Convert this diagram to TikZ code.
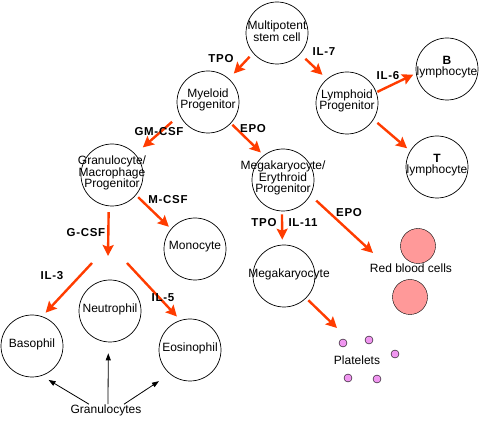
\documentclass[tikz,border=0pt]{standalone}
\usepackage{fontspec}
\setmainfont{Liberation Sans}
\newfontfamily\lblfont[LetterSpace=6]{Liberation Sans Bold}
\usetikzlibrary{arrows.meta}
\definecolor{cytokine}{RGB}{255,60,0}
\definecolor{rbc}{RGB}{255,153,153}
\definecolor{plt}{RGB}{240,150,240}

\begin{document}
\begin{tikzpicture}[x=1pt,y=1pt,
  cell/.style={circle,draw,line width=0.7pt,minimum size=62pt,inner sep=0pt},
  cname/.style={font=\fontsize{12}{11.5}\selectfont,align=center,inner sep=0pt,yshift=2pt},
  factor/.style={font=\lblfont\fontsize{11.5}{11}\selectfont,inner sep=0pt},
  signal/.style={draw=cytokine,line width=2.4pt,-{Stealth[length=11pt,width=11pt,inset=2pt]}},
  granarrow/.style={draw,line width=0.8pt,-{Triangle[length=7pt,width=5pt]}}]
\useasboundingbox (0,0) rectangle (480,421);

% cells
\node[cell,label={[cname]center:Multipotent\\stem cell}] (stem) at (277,388) {};
\node[cell,label={[cname]center:Myeloid\\Progenitor}] (mye) at (208,319) {};
\node[cell,label={[cname]center:Lymphoid\\Progenitor}] (lym) at (347,318) {};
\node[cell,label={[cname]center:\textbf{B}\\lymphocyte}] (bly) at (447,352) {};
\node[cell,label={[cname]center:\textbf{T}\\lymphocyte}] (tly) at (437,254) {};
\node[cell,label={[cname]center:Granulocyte/\\Macrophage\\Progenitor}] (gmp) at (112,246) {};
\node[cell,label={[cname]center:Megakaryocyte/\\Erythroid\\Progenitor}] (mep) at (283,241) {};
\node[cell,label={[cname]center:Monocyte}] (mono) at (195,172) {};
\node[cell,label={[cname]center:Neutrophil}] (neut) at (110,110) {};
\node[cell,label={[cname]center:Basophil}] (baso) at (32,75) {};
\node[cell,label={[cname]center:Eosinophil}] (eos) at (190,71) {};
\node[cell,label={[cname,xshift=5pt]center:Megakaryocyte}] (mega) at (284,145) {};

% red cells and platelets
\node[circle,draw,fill=rbc,minimum size=35pt,inner sep=0pt] (rbc1) at (418,175) {};
\node[circle,draw,fill=rbc,minimum size=35pt,inner sep=0pt] (rbc2) at (410,124) {};
\node[cname] (rbct) at (411,151) {Red blood cells};
\foreach \x/\y [count=\i] in {343/78,369/81,395/67,348/43,377/42}
  \node[circle,draw,fill=plt,minimum size=8pt,inner sep=0pt] (p\i) at (\x,\y) {};
\node[cname] (pltt) at (357,59) {Platelets};
\node[cname] (gran) at (106,9) {Granulocytes};

% free ends
\coordinate (gc) at (108,165);
\coordinate (g3) at (92,158);
\coordinate (g5) at (127,158);
\coordinate (rbcin) at (373,168);
\coordinate (pltin) at (337,93);

% cytokines
\draw[signal,shorten <=5pt,shorten >=7pt] (stem.220) -- (mye.48);
\draw[signal,shorten <=7pt,shorten >=6pt] (stem.318) -- (lym.130);
\draw[signal,shorten <=1pt,shorten >=3pt] (lym.20) -- (bly.188);
\draw[signal,shorten <=5pt,shorten >=4pt] (lym.328) -- (tly.149);
\draw[signal,shorten <=10pt,shorten >=10pt] (mye.205) -- (gmp.42);
\draw[signal,shorten <=2pt,shorten >=4pt] (mye.317) -- (mep.128);
\draw[signal,shorten <=3pt,shorten >=3pt] (gmp.320) -- (mono.140);
\draw[signal,shorten <=6pt] (gmp.264) -- (gc);
\draw[signal,shorten >=5pt] (g3) -- (baso.71);
\draw[signal,shorten >=5pt] (g5) -- (eos.108);
\draw[signal,shorten <=8pt] (mep.331) -- (rbcin);
\draw[signal,shorten <=3pt,shorten >=5pt] (mep.268) -- (mega.93);
\draw[signal,shorten <=3pt] (mega.315) -- (pltin);

\node[factor] (tpo1) at (221,362) {TPO};
\node[factor] (il7) at (324,369) {IL-7};
\node[factor] (il6) at (388,345) {IL-6};
\node[factor] (gmcsf) at (159,289) {GM-CSF};
\node[factor] (epo1) at (253,292) {EPO};
\node[factor] (mcsf) at (168,221) {M-CSF};
\node[factor] (gcsf) at (86,188) {G-CSF};
\node[factor] (il3) at (52,145) {IL-3};
\node[factor] (il5) at (163,123) {IL-5};
\node[factor] (epo2) at (349,208) {EPO};
\node[factor] (tpo2) at (264,198) {TPO};
\node[factor] (il11) at (303,198) {IL-11};

% granulocytes
\draw[granarrow,shorten >=8pt] ([xshift=-17pt]gran.north) -- (baso.288);
\draw[granarrow,shorten >=11pt] ([xshift=2pt]gran.north) -- (neut.267);
\draw[granarrow,shorten >=13pt] ([xshift=18pt]gran.north) -- (eos.230);
\end{tikzpicture}
\end{document}
